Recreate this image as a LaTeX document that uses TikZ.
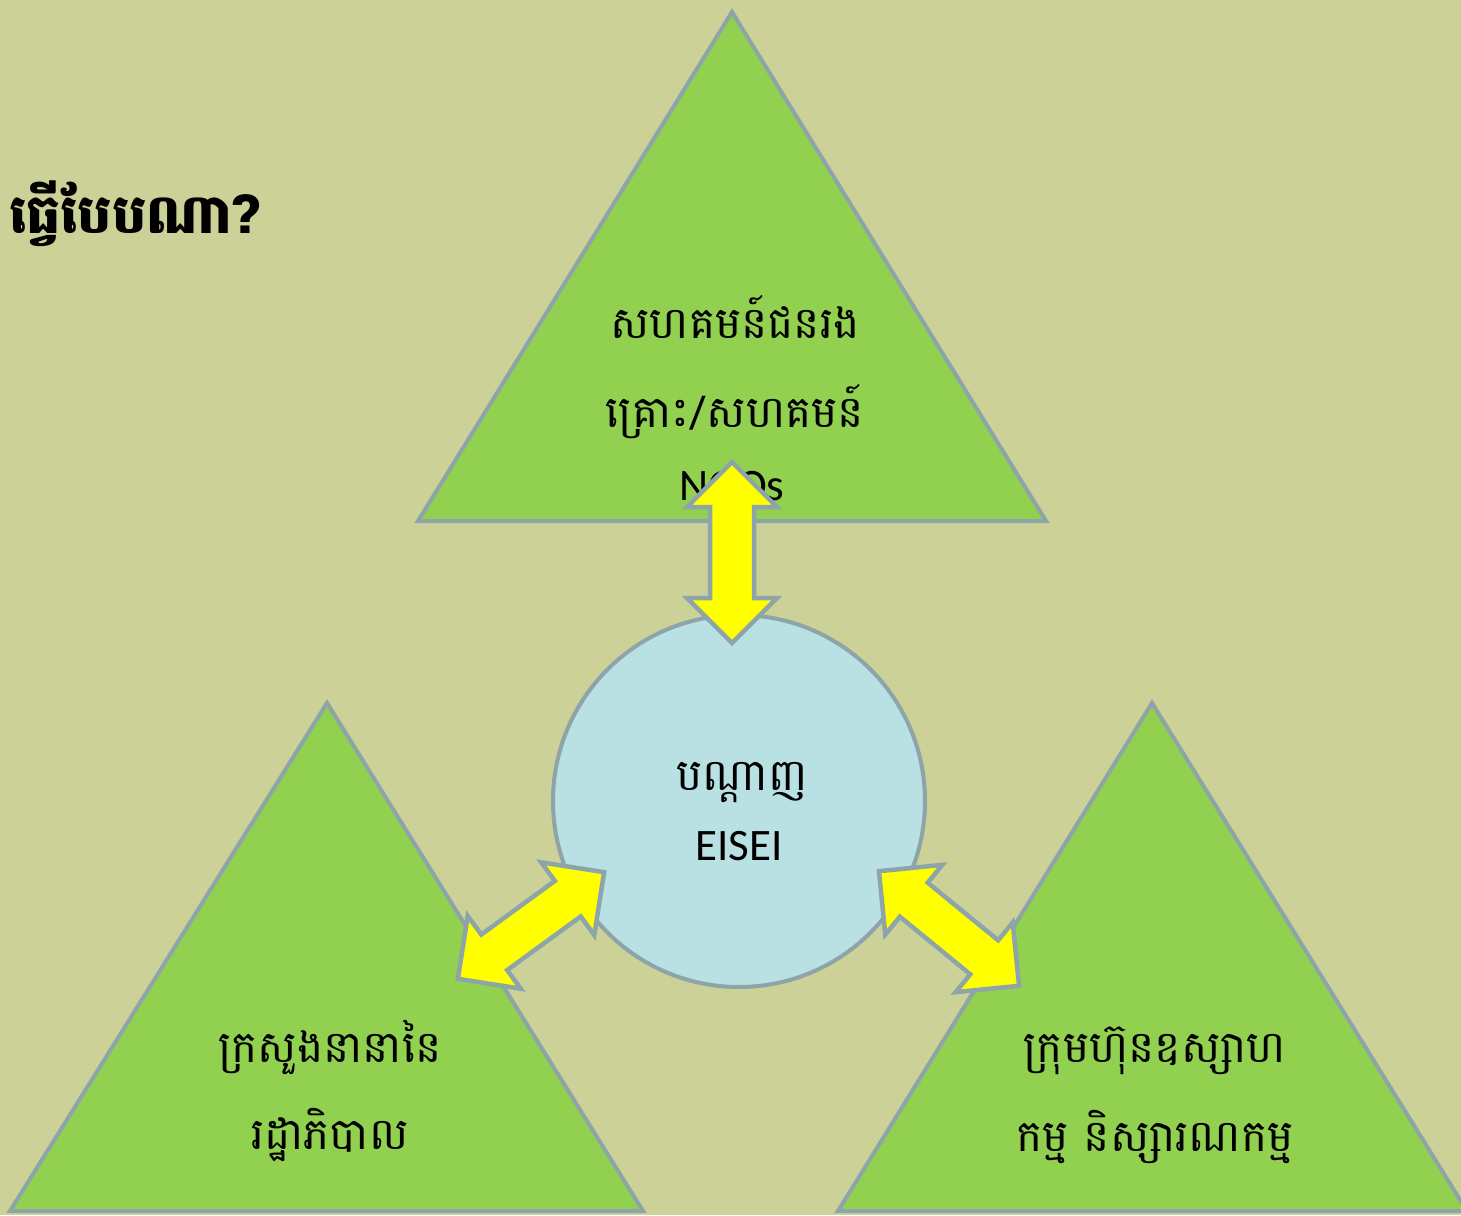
\documentclass[tikz,border=0pt]{standalone}
\usepackage{fontspec}
\setmainfont{Carlito}
\newfontfamily\khmer[Script=Khmer]{Battambang}
\definecolor{bgcol}{HTML}{CCD197}
\definecolor{trigreen}{HTML}{92D050}
\definecolor{edgegray}{HTML}{8DA4A8}
\definecolor{circblue}{HTML}{B9E0E2}
\definecolor{arrowyellow}{HTML}{FFFF00}
\tikzset{
  tri/.style={fill=trigreen, draw=edgegray, line width=4pt},
  hub/.style={circle, fill=circblue, draw=edgegray, line width=4pt, minimum size=372pt, inner sep=0pt},
  blockarrow/.style={fill=arrowyellow, draw=edgegray, line width=4.5pt},
  ktext/.style={font=\khmer\fontsize{44}{50}\selectfont, anchor=base, inner sep=0pt},
  ltext/.style={font=\fontsize{45}{50}\selectfont, anchor=base, inner sep=0pt},
}
\newcommand{\dblarrow}{(-90.5,0) -- (-45.5,45) -- (-45.5,22) -- (45.5,22) -- (45.5,45) -- (90.5,0) -- (45.5,-45) -- (45.5,-22) -- (-45.5,-22) -- (-45.5,-45) -- cycle}
\begin{document}
\begin{tikzpicture}[x=1pt,y=-1pt]
\useasboundingbox (0,0) rectangle (1461,1215);
\clip (0,0) rectangle (1461,1215);
\fill[bgcol] (0,0) rectangle (1461,1215);
% title (cut at left edge, as in the reference)
\node[anchor=base east, inner sep=0pt, font=\khmer\bfseries\fontsize{54}{64}\selectfont] (title) at (259,233) {ធ្វើបែបណា?};
% triangles
\draw[tri] (732,12) -- (1046,521) -- (418,521) -- cycle;
\draw[tri] (327,703) -- (643,1211) -- (10,1211) -- cycle;
\draw[tri] (1152,703) -- (1467,1211) -- (838,1211) -- cycle;
% hub
\node[hub] (hub) at (739,801) {};
% texts
\node[ktext] (t1a) at (735,338) {សហគមន៍ជនរង};
\node[ktext] (t1b) at (735,427) {គ្រោះ/សហគមន៍};
\node[ltext] (t1c) at (732,500) {NGOs};
\node[ktext] (hubk) at (742,790) {បណ្ដាញ};
\node[ltext] (hubl) at (739,860) {EISEI};
\node[ktext] (t2a) at (330,1062) {ក្រសួងនានានៃ};
\node[ktext] (t2b) at (330,1149) {រដ្ឋាភិបាល};
\node[ktext] (t3a) at (1155,1062) {ក្រុមហ៊ុនឧស្សាហ};
\node[ktext] (t3b) at (1155,1151) {កម្ម និស្សារណកម្ម};
% arrows
\draw[blockarrow, shift={(732,552.5)}, rotate=90] \dblarrow;
\draw[blockarrow, shift={(531,925.5)}, rotate=36.1] \dblarrow;
\draw[blockarrow, shift={(949,928.5)}, rotate=-39.3] \dblarrow;
\end{tikzpicture}
\end{document}
